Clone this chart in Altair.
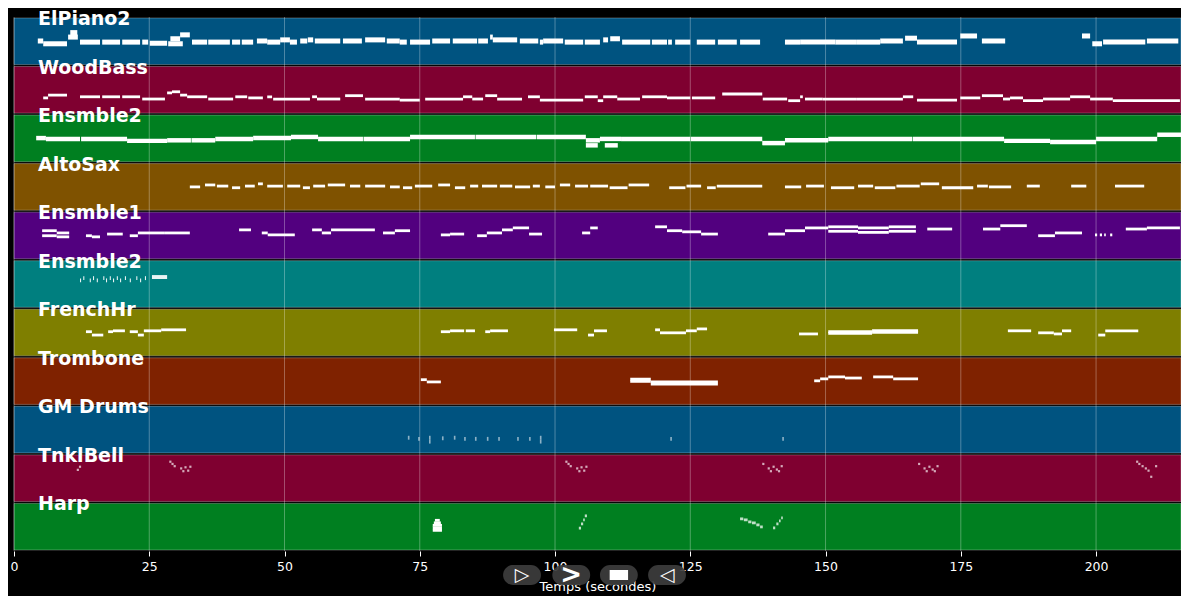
import altair as alt
import pandas as pd

# ---------------- data ----------------
tracks = ["ElPiano2", "WoodBass", "Ensmble2", "AltoSax", "Ensmble1", "Ensmble2",
          "FrenchHr", "Trombone", "GM Drums", "TnklBell", "Harp"]
track_colors = ["#005380", "#7f0030", "#007f20", "#7f5200", "#52007f", "#007f7f",
                "#7f7f00", "#7f2200", "#005380", "#7f0030", "#007f20"]
track_velocity = [127, 127, 127, 127, 127, 115, 127, 127, 70, 85, 95]
duration = 215.7
tick_values = [0, 25, 50, 75, 100, 125, 150, 175, 200]

# notes: (start s, end s, pitch[, velocity])
elpiano2_notes = [
    (4.4, 5.4, 65), (5.4, 9.8, 60), (10.4, 11.7, 80), (10.0, 11.8, 72), (12.2, 15.9, 63),
    (16.3, 19.6, 63), (20.0, 23.3, 63), (23.7, 24.8, 63), (25.1, 28.3, 61), (28.5, 31.2, 60),
    (28.9, 30.7, 69), (30.7, 32.5, 76), (32.9, 35.7, 63), (35.9, 39.9, 63), (40.3, 41.8, 63),
    (42.1, 44.2, 63), (44.9, 46.8, 65), (46.8, 49.2, 63), (49.2, 51.0, 67), (51.0, 52.3, 63),
    (52.9, 54.2, 65), (54.3, 55.3, 67), (55.6, 60.3, 65), (60.8, 64.3, 65), (64.9, 68.6, 67),
    (68.9, 71.3, 65), (71.3, 72.6, 63), (73.2, 76.9, 63), (77.3, 80.6, 65), (81.1, 85.6, 65),
    (85.8, 87.6, 65), (88.0, 88.5, 72), (88.5, 93.0, 67), (93.5, 96.9, 65), (97.2, 97.8, 63),
    (97.8, 101.5, 65), (101.8, 105.2, 63), (105.5, 108.3, 63), (108.9, 109.8, 67),
    (110.2, 112.0, 69), (112.4, 117.6, 63), (117.9, 120.7, 63), (120.9, 121.6, 63),
    (122.2, 125.0, 63), (126.2, 129.6, 63), (130.1, 133.6, 63), (134.2, 137.9, 63),
    (142.5, 145.3, 63), (145.3, 151.8, 63), (151.8, 155.8, 63), (155.8, 160.1, 63),
    (160.1, 164.3, 65), (164.7, 166.9, 70), (166.9, 174.3, 63), (174.9, 178.0, 74),
    (178.9, 183.2, 65), (197.4, 198.9, 74), (199.3, 201.1, 60), (201.3, 209.1, 63),
    (209.4, 215.2, 65),
]
woodbass_notes = [
    (5.4, 6.3, 50), (6.3, 9.8, 55), (12.2, 15.9, 52), (16.3, 19.6, 52), (20.0, 23.3, 52),
    (23.7, 27.9, 48), (28.3, 29.2, 59), (29.2, 30.7, 61), (30.7, 32.0, 55), (32.0, 35.7, 52),
    (35.9, 40.5, 48), (40.9, 43.1, 52), (43.3, 46.0, 50), (46.8, 47.7, 52), (47.9, 54.7, 48),
    (55.1, 56.0, 52), (56.0, 60.3, 48), (61.2, 64.5, 54), (64.9, 71.3, 48), (71.3, 75.0, 46),
    (76.0, 83.0, 48), (83.0, 84.7, 52), (84.7, 86.7, 48), (87.1, 89.3, 54), (89.3, 93.9, 48),
    (95.0, 97.2, 52), (97.2, 105.2, 46), (105.5, 107.9, 52), (107.9, 108.9, 45),
    (108.9, 111.5, 52), (111.5, 115.7, 48), (116.1, 120.7, 52), (120.7, 125.0, 50),
    (125.3, 129.6, 50), (130.9, 138.3, 57), (138.4, 142.9, 48), (143.1, 145.3, 45),
    (145.3, 145.8, 52), (146.2, 149.5, 48), (149.5, 155.8, 48), (155.8, 164.3, 48),
    (164.3, 166.2, 52), (166.9, 174.3, 46), (174.9, 178.6, 50), (178.9, 182.8, 54),
    (182.8, 184.1, 48), (184.1, 186.5, 50), (186.5, 190.2, 45), (190.2, 195.2, 48),
    (195.2, 198.9, 52), (198.9, 203.1, 48), (203.1, 215.5, 45),
]
ensmble2_notes = [
    (4.1, 5.9, 65), (5.9, 12.2, 63.5), (12.4, 20.9, 63.5), (20.9, 28.3, 60), (28.3, 32.7, 61),
    (32.8, 37.2, 61), (37.2, 44.2, 63.5), (44.2, 51.2, 65), (51.2, 56.2, 67), (56.2, 64.5, 63.5),
    (64.6, 73.2, 63.5), (73.2, 85.2, 67), (85.3, 96.5, 67), (96.6, 105.7, 67),
    (105.7, 108.3, 61), (105.7, 107.9, 52), (108.3, 112.2, 63.5), (109.2, 111.6, 52),
    (112.2, 125.0, 63.5), (125.1, 138.3, 63.5), (138.3, 142.5, 56), (142.5, 150.5, 61),
    (150.5, 166.0, 63.5), (166.1, 183.0, 63.5), (183.0, 191.5, 60), (191.5, 200.0, 58),
    (200.0, 211.3, 63.5), (211.3, 215.7, 71),
]
altosax_notes = [
    (32.5, 34.4, 64.5), (35.3, 37.2, 68), (37.5, 39.6, 66), (40.3, 41.8, 63), (42.7, 44.5, 66),
    (45.1, 46.0, 70), (46.8, 49.7, 66), (50.5, 52.9, 66), (53.4, 54.7, 63), (55.3, 57.5, 66),
    (58.0, 61.2, 68), (62.1, 64.0, 66), (64.9, 68.6, 66), (69.5, 71.3, 64.5), (71.9, 73.6, 63),
    (74.1, 77.3, 66), (78.4, 80.6, 68), (81.5, 83.4, 63), (84.3, 85.8, 66), (86.5, 89.3, 66),
    (89.8, 92.1, 66), (92.6, 95.4, 64.5), (95.9, 97.2, 66), (98.2, 100.0, 64.5),
    (100.9, 102.8, 68), (103.7, 106.1, 66), (106.5, 109.8, 66), (110.1, 113.4, 63),
    (113.6, 117.4, 68), (121.1, 124.1, 63), (124.3, 127.0, 66), (128.1, 129.7, 63),
    (129.9, 138.3, 66), (142.5, 145.5, 64.5), (146.4, 149.7, 66), (151.0, 155.3, 63),
    (156.0, 158.8, 66), (159.1, 162.9, 63), (163.1, 167.4, 66), (167.6, 171.0, 70),
    (171.5, 177.3, 63), (178.0, 180.0, 66), (180.2, 184.3, 64.5), (187.2, 189.6, 66),
    (195.4, 198.2, 66), (203.5, 208.9, 66),
]
ensmble1_notes = [
    (5.2, 7.9, 73), (5.2, 7.9, 64), (7.9, 10.2, 69), (7.9, 10.2, 62), (13.3, 14.4, 64),
    (14.4, 15.9, 62), (17.2, 20.1, 67), (21.4, 22.9, 64), (22.9, 24.4, 69), (24.4, 27.9, 69),
    (27.9, 32.5, 69), (41.6, 43.8, 74.5), (45.8, 46.9, 69), (46.9, 51.9, 65.5),
    (55.1, 56.9, 74.5), (56.9, 58.6, 69), (58.6, 66.7, 74.5), (68.2, 70.4, 69), (70.4, 73.2, 73),
    (78.9, 80.6, 65.5), (80.6, 83.2, 67), (85.6, 87.4, 64), (87.4, 90.2, 69), (90.2, 92.2, 74.5),
    (92.2, 95.2, 78), (95.2, 97.6, 67), (105.0, 106.5, 69), (106.5, 107.9, 78),
    (118.5, 120.7, 80), (120.7, 123.5, 73), (123.5, 127.0, 71), (127.0, 130.1, 67),
    (139.4, 142.5, 67), (142.5, 146.2, 73), (146.2, 150.5, 78), (150.5, 156.0, 80),
    (150.5, 156.0, 72), (156.0, 161.7, 78), (156.0, 161.7, 70), (161.7, 166.7, 80),
    (161.7, 166.7, 72), (168.8, 173.4, 76), (179.1, 182.3, 76), (182.3, 187.2, 82),
    (189.3, 192.4, 64), (192.4, 197.4, 69), (199.8, 200.2, 65.5), (200.7, 201.1, 65.5),
    (201.5, 201.8, 65.5), (202.6, 203.0, 65.5), (205.5, 209.4, 76), (209.4, 215.5, 78),
]
ensmble2b_notes = [
    (12.2, 12.4, 71), (12.8, 13.0, 75), (14.0, 14.2, 71), (14.6, 14.8, 75), (15.3, 15.5, 71),
    (16.5, 16.7, 75), (17.0, 17.2, 71), (17.7, 17.9, 75), (18.3, 18.5, 71), (19.0, 19.2, 75),
    (19.6, 19.8, 71), (20.5, 20.7, 75), (21.4, 21.6, 71), (22.6, 22.8, 75), (23.3, 23.5, 71),
    (24.2, 24.4, 75), (25.5, 28.3, 77),
]
frenchhr_notes = [
    (13.3, 14.4, 66), (14.4, 16.5, 60), (17.4, 18.3, 66), (18.3, 20.5, 67.6), (21.4, 22.9, 66),
    (22.9, 24.0, 60), (24.0, 27.2, 67.6), (27.2, 31.8, 69.4), (78.9, 80.6, 66), (80.6, 83.2, 67.6),
    (83.5, 85.2, 67.6), (87.1, 88.0, 66), (88.0, 91.3, 67.6), (99.8, 104.1, 69.4),
    (106.1, 107.2, 60), (107.2, 109.6, 67.6), (118.5, 119.4, 69.4), (119.4, 120.7, 64),
    (120.7, 124.2, 64), (124.2, 126.2, 67.6), (126.2, 128.1, 71), (145.1, 148.6, 62),
    (150.5, 158.6, 63), (150.5, 158.6, 66), (158.6, 167.1, 65), (158.6, 167.1, 68),
    (183.7, 188.0, 67.6), (189.3, 192.2, 64), (192.2, 193.7, 62), (193.7, 195.4, 67.6),
    (200.4, 201.7, 60), (201.7, 207.8, 67.6),
]
trombone_notes = [
    (75.2, 76.3, 67), (76.3, 78.9, 63), (113.9, 117.7, 68), (113.9, 117.7, 64),
    (117.7, 130.1, 63), (117.7, 130.1, 59), (147.9, 149.0, 65), (149.0, 150.5, 68.5),
    (150.5, 153.6, 72), (153.6, 156.0, 70), (156.0, 156.7, 70), (158.8, 162.5, 72),
    (162.5, 167.1, 68.5),
]
drums_notes = [
    (72.8, 73.1, 50), (74.7, 75.0, 48), (76.7, 77.0, 50), (76.7, 77.0, 43), (79.1, 79.4, 49),
    (81.3, 81.6, 50), (83.2, 83.5, 48), (85.2, 85.5, 48), (87.4, 87.7, 48), (89.5, 89.8, 48),
    (93.0, 93.3, 48), (95.2, 95.5, 48), (97.2, 97.5, 50), (97.2, 97.5, 43), (121.3, 121.6, 48),
    (142.0, 142.3, 48),
]
tnklbell_notes = [
    (11.6, 12.0, 79.5), (12.0, 12.4, 85),
    (28.7, 29.1, 94), (29.1, 29.5, 90), (29.5, 29.9, 86), (30.7, 31.1, 82), (31.1, 31.5, 77),
    (31.5, 31.9, 84), (32.0, 32.4, 78), (32.4, 32.8, 85),
    (101.9, 102.3, 94), (102.3, 102.7, 90), (102.7, 103.1, 86), (103.9, 104.3, 82),
    (104.3, 104.7, 77), (104.7, 105.1, 84), (105.2, 105.6, 78), (105.6, 106.0, 85),
    (138.3, 138.7, 90), (139.3, 139.7, 82), (139.7, 140.1, 77), (140.2, 140.6, 85),
    (140.8, 141.2, 80), (141.2, 141.6, 77), (141.7, 142.1, 86),
    (167.1, 167.5, 90), (168.1, 168.5, 82), (168.5, 168.9, 77), (169.0, 169.4, 85),
    (169.6, 170.0, 80), (170.0, 170.4, 77), (170.5, 170.9, 86),
    (207.4, 207.8, 94), (207.8, 208.2, 90), (208.4, 208.8, 86), (209.0, 209.4, 82),
    (209.5, 209.9, 78), (210.0, 210.4, 67), (210.9, 211.3, 86),
]
harp_notes = [
    (77.8, 78.7, 76, 127), (77.6, 78.9, 71.5, 127), (77.4, 79.1, 67, 127),
    (77.4, 79.1, 62.5, 127), (77.4, 79.1, 58, 127),
    (104.4, 104.8, 62), (104.8, 105.2, 69.6), (105.2, 105.5, 76.8), (105.5, 105.9, 84),
    (134.2, 134.8, 78.6), (134.9, 135.6, 76.8), (135.7, 136.3, 73.2), (136.4, 137.1, 71.4),
    (137.2, 137.8, 67.8), (137.9, 138.4, 64.2),
    (140.3, 140.7, 62.4), (140.9, 141.3, 69.6), (141.4, 141.7, 75), (141.8, 142.1, 80.4),
]
all_notes = [elpiano2_notes, woodbass_notes, ensmble2_notes, altosax_notes, ensmble1_notes,
             ensmble2b_notes, frenchhr_notes, trombone_notes, drums_notes, tnklbell_notes,
             harp_notes]

button_times = [93.9, 103.0, 111.8, 120.7]
button_glyphs = ["▷", ">", "", "◁"]
button_glyph_sizes = [19, 26, 0, 19]

# ---------------- build tables ----------------
LO, HI = 21.0, 108.0
note_thickness = [9, 5, 8, 5, 5, 7, 5, 5, 7, 4, 5]


def yval(row, pitch):
    return row + 1 - (pitch - LO) / (HI - LO)


bands = pd.DataFrame({
    "track": tracks,
    "row": list(range(len(tracks))),
    "color": track_colors,
})
bands["x0"] = 0.0
bands["x1"] = duration
bands["ytop"] = bands["row"] + 0.02
bands["ybot"] = bands["row"] + 0.98

rows = []
for r, notes in enumerate(all_notes):
    th = note_thickness[r]
    for n in notes:
        vel = n[3] if len(n) > 3 else track_velocity[r]
        rows.append({
            "track": tracks[r], "start": n[0], "end": n[1], "pitch": n[2],
            "ytop": yval(r, n[2] + th / 2), "ybot": yval(r, n[2] - th / 2),
            "op": vel / 127.0,
        })
notes_df = pd.DataFrame(rows)

grid_df = pd.DataFrame({"t": tick_values})

buttons_df = pd.DataFrame({
    "t": button_times,
    "glyph": button_glyphs,
    "gsize": button_glyph_sizes,
})
buttons_df["t0"] = buttons_df["t"] - 3.5
buttons_df["t1"] = buttons_df["t"] + 3.5
stop_df = buttons_df.iloc[[2]].copy()
stop_df["s0"] = stop_df["t"] - 1.7
stop_df["s1"] = stop_df["t"] + 1.7

# ---------------- chart ----------------
xscale = alt.Scale(domain=[0, duration], nice=False, zero=False)
yscale = alt.Scale(domain=[0, len(tracks)], reverse=True, nice=False, zero=False)

band_layer = alt.Chart(bands).mark_rect(
    stroke="white", strokeOpacity=0.28, strokeWidth=1
).encode(
    x=alt.X("x0:Q", scale=xscale,
            axis=alt.Axis(values=tick_values, title="Temps (secondes)", grid=False,
                          domain=False, tickColor="white", tickSize=5,
                          labelColor="white", labelFont="DejaVu Sans", labelFontSize=12.5,
                          labelPadding=4, titleColor="white", titleFont="DejaVu Sans",
                          titleFontSize=13, titleFontWeight="normal", titlePadding=8,
                          labelFlush=False)),
    x2="x1:Q",
    y=alt.Y("ytop:Q", scale=yscale, axis=None),
    y2="ybot:Q",
    color=alt.Color("color:N", scale=None),
)

grid_layer = alt.Chart(grid_df).mark_rule(
    color="white", opacity=0.3, strokeWidth=1
).encode(x=alt.X("t:Q", scale=xscale))

note_layer = alt.Chart(notes_df).mark_rect(color="white").encode(
    x=alt.X("start:Q", scale=xscale),
    x2="end:Q",
    y=alt.Y("ytop:Q", scale=yscale),
    y2="ybot:Q",
    opacity=alt.Opacity("op:Q", scale=None),
)

label_layer = alt.Chart(bands).mark_text(
    align="left", baseline="alphabetic", dy=8, color="white",
    font="DejaVu Sans", fontWeight="bold", fontSize=19
).encode(
    x=alt.value(24),
    y=alt.Y("row:Q", scale=yscale),
    text="track:N",
)

button_layer = alt.Chart(buttons_df).mark_rect(
    color="#3d3d3d", opacity=0.92, cornerRadius=10
).encode(
    x=alt.X("t0:Q", scale=xscale),
    x2="t1:Q",
    y=alt.value(548),
    y2=alt.value(568),
)

glyph_layer = alt.Chart(buttons_df).mark_text(
    color="white", font="DejaVu Sans", fontWeight="bold", baseline="middle", align="center"
).encode(
    x=alt.X("t:Q", scale=xscale),
    y=alt.value(558),
    text="glyph:N",
    size=alt.Size("gsize:Q", scale=None),
)

stop_layer = alt.Chart(stop_df).mark_rect(color="white").encode(
    x=alt.X("s0:Q", scale=xscale),
    x2="s1:Q",
    y=alt.value(553),
    y2=alt.value(563),
)

chart = alt.layer(
    band_layer, grid_layer, note_layer, label_layer, button_layer, glyph_layer, stop_layer
).properties(
    width=1167, height=534,
    autosize=alt.AutoSizeParams(type="none"),
    padding={"left": 6, "top": 9, "right": 0, "bottom": 45},
    background="black",
).configure_view(stroke=None)

chart.save("out.html", embed_options={"renderer": "svg", "actions": False})
